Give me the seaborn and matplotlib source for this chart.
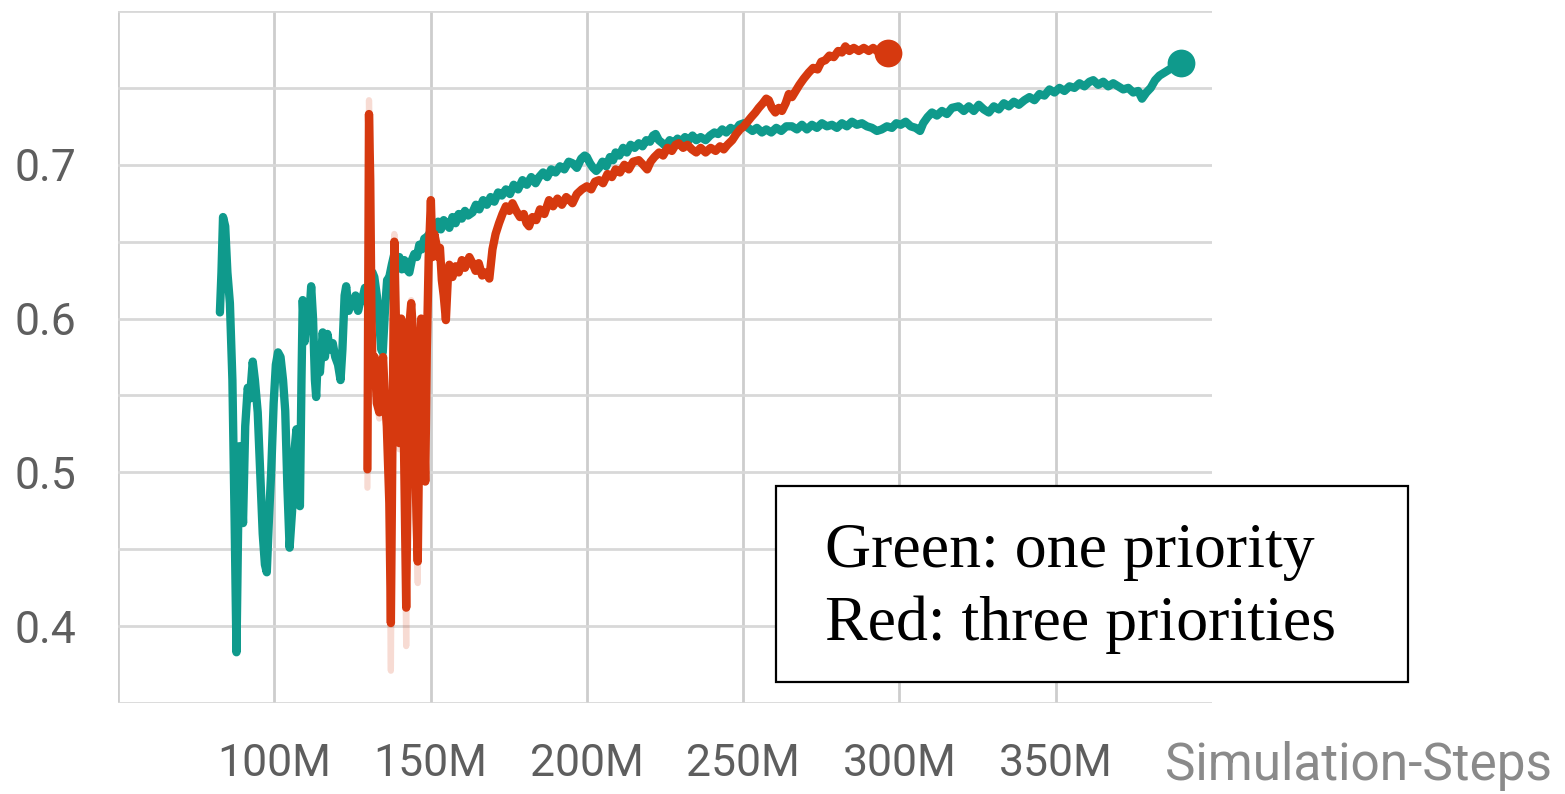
import numpy as np
import pandas as pd
import matplotlib
matplotlib.use("Agg")
import matplotlib.pyplot as plt
from matplotlib.patches import Rectangle
import seaborn as sns

# Simulation steps in millions
green_steps = [
    82.6, 83.1, 83.6, 84.3, 85.0, 85.8, 86.6, 87.3, 87.9, 88.4, 88.9, 89.5, 90.0, 90.7,
    91.5, 92.2, 93.1, 93.8, 94.7, 95.5, 96.3, 97.0, 97.6, 98.3, 99.0, 99.8, 100.5, 101.2,
    102.0, 102.8, 103.5, 104.2, 104.9, 105.7, 106.5, 107.1, 107.7, 108.2, 108.7, 109.1,
    109.7, 110.3, 111.0, 111.8, 112.4, 113.0, 113.4, 114.0, 114.6, 115.5, 116.2, 117.0,
    117.8, 118.7, 119.5, 120.4, 121.2, 121.8, 122.5, 123.0, 123.8, 124.5, 125.2, 126.0,
    126.8, 127.6, 128.3, 129.0, 129.8, 130.6, 131.4, 132.0, 132.8, 133.5, 134.2, 134.7,
    135.4, 136.1, 136.8, 137.6, 138.4, 139.2, 140.0, 140.8, 141.6, 142.4, 143.2, 144.0,
    144.8, 145.6, 146.4, 147.2, 148.0, 148.8, 149.6, 150.5, 151.4, 152.4, 153.3, 154.2,
    155.0, 156.0, 157.0, 158.0, 159.0, 160.0, 161.0, 162.0, 163.4, 164.5, 165.6, 166.8,
    168.0, 169.2, 170.4, 171.6, 172.8, 174.1, 175.4, 176.6, 178.0, 179.4, 180.8, 182.2,
    183.6, 184.7, 186.0, 187.3, 188.6, 190.0, 191.4, 192.8, 194.2, 195.4, 196.8, 198.2,
    199.3, 200.0, 201.0, 202.0, 203.0, 203.9, 205.0, 206.2, 207.4, 208.4, 209.2, 210.4,
    211.6, 212.8, 214.0, 215.3, 216.6, 217.8, 219.0, 220.2, 221.2, 222.0, 223.0, 224.2,
    225.2, 226.5, 227.8, 229.0, 230.2, 231.4, 232.6, 233.8, 235.0, 236.4, 238.0, 239.4,
    240.8, 242.0, 243.3, 244.6, 246.0, 247.4, 248.8, 250.2, 251.6, 253.0, 254.4, 256.0,
    257.4, 259.0, 260.6, 262.2, 263.8, 265.6, 267.2, 268.8, 270.4, 272.0, 273.6, 275.2,
    276.8, 278.4, 280.0, 281.6, 283.2, 284.8, 286.4, 288.0, 289.6, 291.2, 292.8, 294.3,
    296.0, 297.6, 299.0, 300.4, 302.0, 303.6, 305.2, 306.6, 307.6, 309.0, 310.4, 312.0,
    313.6, 315.2, 316.8, 318.9, 320.6, 322.2, 323.8, 325.4, 327.0, 328.6, 330.2, 331.8,
    333.4, 335.0, 336.6, 338.2, 340.0, 341.6, 343.2, 344.8, 346.4, 348.0, 349.6, 351.2,
    352.8, 354.4, 356.0, 357.6, 359.2, 360.8, 362.0, 363.6, 365.2, 366.8, 368.4, 370.0,
    371.6, 373.2, 374.8, 376.4, 377.6, 379.0, 380.4, 381.8, 383.2, 384.8, 386.4, 388.0,
    389.4, 390.2,
]
green_vals = [
    0.604, 0.630, 0.666, 0.660, 0.630, 0.610, 0.560, 0.470, 0.383, 0.460, 0.517, 0.495, 0.467, 0.530,
    0.555, 0.548, 0.572, 0.560, 0.539, 0.500, 0.460, 0.440, 0.435, 0.470, 0.500, 0.545, 0.570, 0.578,
    0.575, 0.560, 0.540, 0.490, 0.451, 0.475, 0.515, 0.528, 0.490, 0.478, 0.560, 0.612,
    0.585, 0.600, 0.595, 0.621, 0.600, 0.560, 0.549, 0.580, 0.565, 0.591, 0.575, 0.590,
    0.580, 0.584, 0.575, 0.570, 0.560, 0.580, 0.615, 0.621, 0.605, 0.612, 0.608, 0.615,
    0.605, 0.612, 0.614, 0.620, 0.610, 0.625, 0.630, 0.627, 0.615, 0.600, 0.580, 0.578,
    0.605, 0.625, 0.627, 0.635, 0.642, 0.638, 0.640, 0.632, 0.638, 0.632, 0.630, 0.638,
    0.642, 0.640, 0.648, 0.645, 0.652, 0.653, 0.655, 0.660, 0.657, 0.663, 0.658, 0.664,
    0.662, 0.659, 0.666, 0.662, 0.668, 0.665, 0.670, 0.667, 0.669, 0.674, 0.671, 0.677,
    0.674, 0.679, 0.676, 0.682, 0.680, 0.684, 0.681, 0.687, 0.684, 0.690, 0.687, 0.692,
    0.688, 0.692, 0.695, 0.692, 0.697, 0.695, 0.699, 0.697, 0.702, 0.701, 0.698, 0.704,
    0.706, 0.705, 0.701, 0.698, 0.696, 0.698, 0.702, 0.699, 0.705, 0.703, 0.708, 0.706,
    0.711, 0.708, 0.713, 0.711, 0.714, 0.712, 0.716, 0.715, 0.719, 0.720, 0.716, 0.714,
    0.712, 0.716, 0.714, 0.717, 0.715, 0.718, 0.716, 0.719, 0.716, 0.718, 0.716, 0.719,
    0.721, 0.720, 0.723, 0.721, 0.724, 0.722, 0.726, 0.727, 0.724, 0.722, 0.724, 0.721,
    0.723, 0.721, 0.724, 0.722, 0.725, 0.725, 0.723, 0.726, 0.723, 0.726, 0.724, 0.727,
    0.725, 0.726, 0.724, 0.727, 0.725, 0.728, 0.726, 0.727, 0.725, 0.724, 0.722, 0.723,
    0.725, 0.724, 0.727, 0.726, 0.728, 0.725, 0.724, 0.722, 0.727, 0.731, 0.734, 0.732,
    0.735, 0.733, 0.737, 0.738, 0.735, 0.738, 0.735, 0.739, 0.736, 0.734, 0.738, 0.736,
    0.740, 0.738, 0.741, 0.739, 0.742, 0.744, 0.742, 0.746, 0.745, 0.749, 0.747, 0.750,
    0.748, 0.751, 0.750, 0.753, 0.751, 0.754, 0.755, 0.752, 0.754, 0.751, 0.753, 0.751,
    0.749, 0.750, 0.747, 0.748, 0.743, 0.747, 0.750, 0.755, 0.758, 0.760, 0.762, 0.764,
    0.766, 0.766,
]

red_steps = [
    129.8, 130.0, 130.3, 130.7, 131.1, 131.5, 132.1, 132.8, 133.6, 134.2, 134.8, 135.4,
    136.0, 136.8, 137.3, 137.8, 138.4, 138.9, 139.5, 140.0, 140.6, 141.2, 141.8, 142.2,
    142.8, 143.4, 143.8, 144.4, 145.0, 145.5, 145.9, 146.4, 147.0, 147.6, 148.3, 148.8,
    149.4, 150.1, 150.6, 151.2, 151.7, 152.4, 153.0, 153.6, 154.2, 154.9, 155.5, 156.0,
    157.0, 158.0, 159.0, 160.0, 161.0, 162.4, 163.4, 164.4, 165.4, 166.5, 167.7, 168.8,
    169.8, 170.8, 171.9, 173.0, 174.1, 175.2, 176.2, 177.4, 178.6, 179.8, 180.7, 181.5,
    182.6, 183.8, 185.0, 186.4, 187.9, 189.2, 190.6, 192.0, 193.4, 194.5, 195.4, 196.8,
    198.4, 200.0, 201.4, 202.6, 203.9, 205.2, 206.6, 208.0, 209.2, 210.6, 212.0, 213.4,
    214.8, 216.6, 218.0, 219.3, 220.4, 221.6, 223.1, 224.4, 225.8, 227.2, 228.4, 229.4,
    230.8, 232.2, 233.6, 235.0, 236.4, 238.0, 239.6, 241.2, 242.6, 243.8, 245.0, 246.5,
    247.8, 249.0, 250.2, 251.4, 252.6, 253.9, 255.0, 256.3, 257.4, 258.2, 259.2, 260.3,
    261.4, 262.4, 263.6, 264.6, 265.6, 266.8, 268.0, 269.4, 271.0, 272.4, 273.8, 275.0,
    276.3, 277.6, 279.0, 280.4, 281.6, 282.7, 284.0, 285.4, 287.0, 288.6, 290.2, 291.6,
    292.8, 294.2, 295.4, 296.2,
]
red_vals = [
    0.502, 0.600, 0.733, 0.690, 0.600, 0.560, 0.575, 0.545, 0.539, 0.560, 0.575, 0.548,
    0.530, 0.480, 0.402, 0.520, 0.650, 0.600, 0.560, 0.519, 0.600, 0.560, 0.470, 0.412,
    0.520, 0.600, 0.610, 0.590, 0.520, 0.470, 0.442, 0.530, 0.600, 0.560, 0.494, 0.580,
    0.640, 0.677, 0.640, 0.655, 0.650, 0.640, 0.646, 0.625, 0.615, 0.599, 0.625, 0.635,
    0.627, 0.634, 0.630, 0.638, 0.633, 0.640, 0.636, 0.631, 0.636, 0.628, 0.630, 0.626,
    0.645, 0.655, 0.662, 0.668, 0.673, 0.670, 0.675, 0.670, 0.666, 0.668, 0.662, 0.660,
    0.666, 0.664, 0.671, 0.668, 0.677, 0.673, 0.678, 0.674, 0.679, 0.677, 0.675, 0.681,
    0.684, 0.686, 0.684, 0.689, 0.690, 0.688, 0.694, 0.692, 0.697, 0.695, 0.700, 0.697,
    0.702, 0.703, 0.700, 0.697, 0.702, 0.705, 0.708, 0.706, 0.711, 0.709, 0.713, 0.714,
    0.711, 0.713, 0.710, 0.708, 0.711, 0.708, 0.711, 0.709, 0.712, 0.710, 0.713, 0.716,
    0.720, 0.723, 0.725, 0.728, 0.731, 0.734, 0.737, 0.740, 0.743, 0.742, 0.737, 0.734,
    0.737, 0.735, 0.740, 0.746, 0.744, 0.748, 0.752, 0.756, 0.760, 0.763, 0.762, 0.767,
    0.768, 0.771, 0.770, 0.774, 0.773, 0.777, 0.774, 0.776, 0.774, 0.776, 0.774, 0.776,
    0.774, 0.775, 0.773, 0.773,
]

# unsmoothed red values in the noisy start (drawn faintly underneath)
red_raw_steps = [
    129.8, 130.0, 130.3, 130.7, 131.1, 131.5, 132.1, 132.8, 133.6, 134.2, 134.8, 135.4,
    136.0, 136.8, 137.3, 137.8, 138.4, 138.9, 139.5, 140.0, 140.6, 141.2, 141.8, 142.2,
    142.8, 143.4, 143.8, 144.4, 145.0, 145.5, 145.9, 146.4, 147.0,
]
red_raw_vals = [
    0.490, 0.600, 0.742, 0.690, 0.600, 0.560, 0.575, 0.545, 0.535, 0.560, 0.575, 0.548,
    0.530, 0.470, 0.371, 0.520, 0.655, 0.600, 0.560, 0.515, 0.600, 0.560, 0.460, 0.387,
    0.520, 0.600, 0.612, 0.590, 0.520, 0.465, 0.428, 0.530, 0.600,
]

x_ticks = [50, 100, 150, 200, 250, 300, 350]
x_labels = ["", "100M", "150M", "200M", "250M", "300M", "350M"]
y_ticks = [0.35, 0.4, 0.45, 0.5, 0.55, 0.6, 0.65, 0.7, 0.75, 0.8]
y_labels = ["", "0.4", "", "0.5", "", "0.6", "", "0.7", "", ""]

GREEN = "#0f9a8c"
RED = "#d6390f"

df = pd.concat([
    pd.DataFrame({"step": green_steps, "value": green_vals, "run": "one priority"}),
    pd.DataFrame({"step": red_steps, "value": red_vals, "run": "three priorities"}),
], ignore_index=True)

sns.set_theme(style="white")
plt.rcParams["font.family"] = ["Roboto", "DejaVu Sans"]

fig = plt.figure(figsize=(15.65, 7.94), dpi=100)
ax = fig.add_axes([118 / 1565, 1 - 703 / 794, (1212 - 118) / 1565, (703 - 11) / 794])

sns.lineplot(x=red_raw_steps, y=red_raw_vals, color=RED, alpha=0.18, lw=4.5, ax=ax,
             sort=False, estimator=None)
sns.lineplot(data=df, x="step", y="value", hue="run",
             palette={"one priority": GREEN, "three priorities": RED},
             hue_order=["one priority", "three priorities"],
             lw=6, sort=False, estimator=None, legend=False, ax=ax)

# end-of-run dots like TensorBoard
sns.scatterplot(x=[green_steps[-1]], y=[green_vals[-1]], color=GREEN, s=400,
                linewidth=0, ax=ax, zorder=5)
sns.scatterplot(x=[red_steps[-1]], y=[red_vals[-1]], color=RED, s=400,
                linewidth=0, ax=ax, zorder=5)

ax.set_xlim(50, 400)
ax.set_ylim(0.35, 0.8)
ax.set_xticks(x_ticks)
ax.set_xticklabels(x_labels)
ax.set_yticks(y_ticks)
ax.set_yticklabels(y_labels)
ax.set_xlabel("")
ax.set_ylabel("")
for s in ax.spines.values():
    s.set_visible(False)

ax.xaxis.grid(True, color="#cdcdcd", lw=2)
ax.yaxis.grid(True, color="#d8d8d8", lw=2)
ax.tick_params(axis="x", length=14, width=2, color="#cdcdcd", pad=15,
               labelsize=32, labelcolor="#5e5e5e")
ax.tick_params(axis="y", length=14, width=2, color="#d8d8d8", pad=16,
               labelsize=32, labelcolor="#5e5e5e")

fig.text(1165 / 1565, 1 - 780 / 794, "Simulation-Steps", fontsize=37,
         color="#8a8a8a", va="baseline", ha="left")

# annotation box
box = Rectangle((776 / 1565, 1 - 682 / 794), 632 / 1565, 196 / 794,
                transform=fig.transFigure, facecolor="white", edgecolor="black",
                lw=1.6, zorder=10)
fig.patches.append(box)
serif = ["Liberation Serif", "DejaVu Serif"]
fig.text(825 / 1565, 1 - 567 / 794, "Green: one priority", fontsize=46,
         family=serif, color="black", va="baseline", ha="left", zorder=11)
fig.text(825 / 1565, 1 - 640 / 794, "Red: three priorities", fontsize=46,
         family=serif, color="black", va="baseline", ha="left", zorder=11)

fig.savefig("out.png", dpi=100)
